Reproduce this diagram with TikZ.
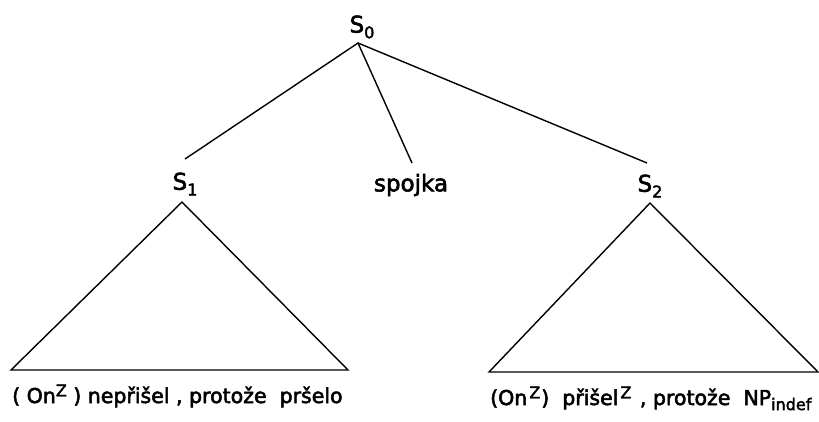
\documentclass[tikz,border=0pt]{standalone}
\usepackage{fontspec}
\setmainfont{DejaVu Sans}[FakeBold=2.5]
\newcommand{\sps}[1]{\raisebox{0.6ex}{\fontsize{16}{16}\selectfont #1}}
\newcommand{\sbs}[1]{\raisebox{-0.45ex}{\fontsize{16}{16}\selectfont #1}}
\begin{document}
\begin{tikzpicture}[x=1pt,y=-1pt,
  edge/.style={line width=1.4pt},
  lab/.style={font=\fontsize{23}{24}\selectfont, inner sep=0pt},
  leaf/.style={font=\fontsize{20.5}{22}\selectfont, anchor=base west, inner sep=0pt}]
\useasboundingbox (0,0) rectangle (819,421);
\node[lab] (s0) at (362,27) {S\sbs{0}};
\node[lab] (s1) at (185,184) {S\sbs{1}};
\node[lab] (sp) at (411,185) {spojka};
\node[lab] (s2) at (650,186) {S\sbs{2}};
\coordinate (top) at (358,43);
\coordinate (e1) at (185,159);
\coordinate (e2) at (412,163);
\coordinate (e3) at (647,163);
\draw[edge] (e1) -- (top) -- (e3);
\draw[edge] (top) -- (e2);
\coordinate (a1) at (182,202);
\coordinate (l1) at (11,370);
\coordinate (r1) at (348,370);
\coordinate (a2) at (650,203);
\coordinate (l2) at (489,372);
\coordinate (r2) at (818,372);
\draw[edge,line join=miter] (a1) -- (l1) -- (r1) -- cycle;
\draw[edge,line join=miter] (a2) -- (l2) -- (r2) -- cycle;
\node[leaf] (t1) at (12,403) {( On\sps{Z} ) nepřišel , protože\ \ pršelo};
\node[leaf] (t2) at (490,405) {(On\hspace{2pt}\sps{Z}\hspace{1pt})\ \ přišel\hspace{2pt}\sps{Z}\hspace{2pt} ,\ protože\ \ NP\sbs{indef}};
\end{tikzpicture}
\end{document}
